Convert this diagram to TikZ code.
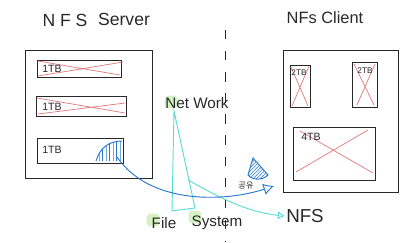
\documentclass[tikz,border=0pt]{standalone}
\usepackage{fontspec}
\setmainfont{Liberation Sans}
\newfontfamily\krfont{Noto Sans CJK KR}
\usepackage{tikz}
\usetikzlibrary{arrows.meta,patterns}
\definecolor{crossred}{RGB}{226,120,120}
\definecolor{linkcyan}{RGB}{90,220,210}
\definecolor{slicblue}{RGB}{40,120,210}
\definecolor{markgreen}{RGB}{214,242,196}
\definecolor{penblack}{RGB}{40,40,40}

\tikzset{
  box/.style={draw=penblack, thick},
  disk/.style={draw=penblack, thick},
  cross/.style={crossred, semithick},
  label/.style={text=penblack, inner sep=1pt},
  highlight/.style={fill=markgreen, rounded corners=3pt, minimum size=11pt, inner sep=0pt},
}

\begin{document}
\begin{tikzpicture}[x=0.03cm, y=-0.03cm, >=Latex]
      \useasboundingbox (0,0) rectangle (407,242);
      % titles
      \node[label, font=\fontsize{15}{15}\selectfont] (srvnfs) at (65,20) {N F S};
      \node[label, font=\fontsize{15}{15}\selectfont] (srvname) at (124,19) {Server};
      \node[label, font=\fontsize{14}{14}\selectfont] (cliname) at (325,18) {NFs Client};
      % server box and disks
      \draw[box] (25,50) rectangle (152,178);
      \draw[disk] (37,60) rectangle (121,77);
      \draw[cross] (38,61) -- (120,75) (38,76) -- (123,62);
      \node[label, font=\small] (diska) at (52,68.5) {1TB};
      \draw[disk] (36,96) rectangle (126,116);
      \draw[cross] (37,98) -- (125,113) (38,114) -- (125,103);
      \node[label, font=\small] (diskb) at (52,107) {1TB};
      \draw[disk] (37,138) rectangle (123,163);
      \node[label, font=\small] (diskc) at (52,150) {1TB};
      \fill[pattern=vertical lines, pattern color=slicblue] (97,161) .. controls (100,147) and (110,141) .. (122,141) -- (122,161) -- cycle;
      \draw[slicblue, thick] (96,161) .. controls (100,147) and (110,141) .. (122,141);
      \coordinate (slice) at (117,157);
      % divider
      \draw[penblack, thick, dash pattern=on 8pt off 10pt] (225,30) -- (225,242);
      % client box and disks
      \draw[box] (283,50) rectangle (398,192);
      \draw[disk] (290,65) rectangle (310,107);
      \draw[cross] (291,67) -- (308,106) (309,66) -- (292,106);
      \node[label, font=\scriptsize] (diskd) at (299,73) {2TB};
      \draw[disk] (352,62) rectangle (377,107);
      \draw[cross] (354,64) -- (374,105) (375,64) -- (357,105);
      \node[label, font=\scriptsize] (diske) at (365,71) {2TB};
      \draw[disk] (293,127) rectangle (375,180);
      \draw[cross] (300,131) -- (373,173) (368,130) -- (296,172);
      \node[label, font=\small] (diskf) at (311,137) {4TB};
      \coordinate (clientin) at (274,186);
      % network and file system
      \node[highlight] at (171,102) {};
      \node[label, font=\fontsize{13}{13}\selectfont] (network) at (197,103) {Net Work};
      \node[highlight] at (153,220) {};
      \node[label, font=\fontsize{13}{13}\selectfont] (file) at (164,223) {File};
      \node[highlight] at (195,217) {};
      \node[label, font=\fontsize{13}{13}\selectfont] (system) at (217,223) {System};
      \node[label, font=\fontsize{16}{16}\selectfont] (nfs) at (305,216) {NFS};
      \coordinate (apex) at (174,111);
      \coordinate (leftfoot) at (172,211);
      \coordinate (rightfoot) at (195,208);
      \coordinate (branch) at (188,180);
      \draw[linkcyan, thick] (apex) -- (leftfoot) -- (rightfoot) -- cycle;
      \draw[linkcyan, thick, -{Latex[open, length=6pt, width=7pt]}] (branch) .. controls (215,195) and (245,212) .. (nfs.west);
      % shared slice
      \draw[slicblue, thick, -{Latex[open, length=9pt, width=10pt]}] (slice) .. controls (150,205) and (225,202) .. (clientin);
      \fill[pattern=north east lines, pattern color=slicblue] (253,158) -- (268,175) .. controls (262,181) and (252,180) .. (248,175) -- cycle;
      \draw[slicblue, thick] (253,158) -- (268,175) .. controls (262,181) and (252,180) .. (248,175) -- cycle;
      \node[label, font=\krfont\scriptsize] (share) at (246,186) {공유};
\end{tikzpicture}
\end{document}
